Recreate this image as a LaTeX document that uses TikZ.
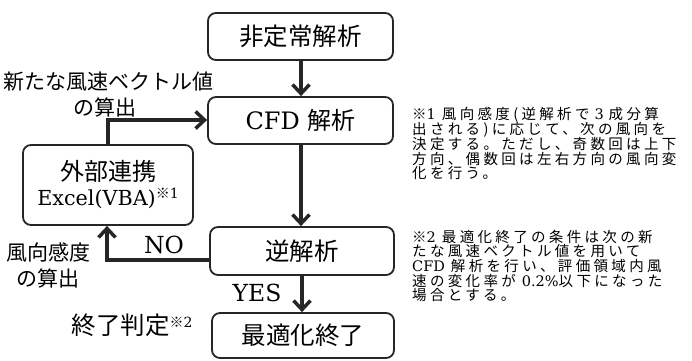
\documentclass[tikz,border=0pt]{standalone}
\usepackage{fontspec}
\setmainfont{DejaVu Serif}
\newfontfamily\jp{Noto Sans CJK JP}
\newfontfamily\jpn[LetterSpace=23]{Noto Sans CJK JP}
\newcommand{\supmark}[1]{\raisebox{7pt}{\fontsize{14}{14}\selectfont{\jp ※}#1}}
\usetikzlibrary{arrows.meta}
\begin{document}
\begin{tikzpicture}[x=1pt,y=-1pt,
  box/.style={draw=black!85, line width=1.8pt, rounded corners=8pt, inner sep=0pt, align=center, font=\fontsize{24.5}{27}\selectfont},
  flow/.style={draw=black!85, line width=3.5pt, -{Straight Barb[length=9pt,width=17pt]}},
  lbl/.style={inner sep=0pt, align=center, font=\fontsize{21}{26}\selectfont},
  note/.style={inner sep=0pt, anchor=west, font=\fontsize{14.5}{14.5}\selectfont}]
\useasboundingbox (0,0) rectangle (692,360);
% boxes
\node[box, minimum width=185pt, minimum height=47pt] (A) at (300.5,36.5) {\jp 非定常解析};
\node[box, minimum width=185pt, minimum height=47pt] (B) at (300.5,120.5) {\fontsize{24}{27}\selectfont CFD {\jp 解析}};
\node[box, minimum width=184pt, minimum height=48pt] (C) at (302,251) {\jp 逆解析};
\node[box, minimum width=182pt, minimum height=45pt] (D) at (303,335.5) {\jp 最適化終了};
\node[box, minimum width=170pt, minimum height=80pt, font=\fontsize{20.7}{25}\selectfont] (E) at (108,185)
  {{\fontsize{24}{25}\selectfont\jp 外部連携}\\Excel(VBA)\supmark{1}};
% connectors
\draw[flow] (A.south -| 301,0) -- (B.north -| 301,0);
\draw[flow] (B.south -| 301,0) -- (C.north -| 301,0);
\draw[flow] (C.south -| 302,0) -- (D.north -| 302,0);
\coordinate (cno) at (C.west |- 0,260);
\coordinate (eno) at (E.south -| 107,0);
\draw[flow] (cno) -- (107,260) -- (eno);
\coordinate (eup) at (E.north -| 108,0);
\draw[flow] (eup) -- (108,120) -- (B.west |- 0,120);
% labels
\node[lbl] (l1) at (108,82) {\jp 新たな風速ベクトル値};
\node[lbl] (l2) at (105,107) {\jp の算出};
\node[lbl] (l3) at (48,252) {\jp 風向感度};
\node[lbl] (l4) at (48,278) {\jp の算出};
\node[lbl, font=\fontsize{23.5}{28}\selectfont] (no) at (164,245) {NO};
\node[lbl, font=\fontsize{23.5}{28}\selectfont] (yes) at (257,293) {YES};
\node[lbl, font=\fontsize{24.5}{27}\selectfont] (end) at (132,325) {{\jp 終了判定}\supmark{2}};
% notes
\node[note] (n11) at (412,115) {{\jpn ※}1\hspace{6pt}{\jpn 風向感度(逆解析で}\hspace{5pt}3\hspace{5pt}{\jpn 成分算}};
\node[note] (n12) at (412,129.6) {\jpn 出される)に応じて、次の風向を};
\node[note] (n13) at (412,144.2) {\jpn 決定する。ただし、奇数回は上下};
\node[note] (n14) at (412,158.8) {\jpn 方向、偶数回は左右方向の風向変};
\node[note] (n15) at (412,173.4) {\jpn 化を行う。};
\node[note] (n21) at (412,237) {{\jpn ※}2\hspace{6pt}{\jpn 最適化終了の条件は次の新}};
\node[note] (n22) at (412,251.5) {\jpn たな風速ベクトル値を用いて};
\node[note] (n23) at (412,266) {CFD\hspace{6pt}{\jpn 解析を行い、評価領域内風}};
\node[note] (n24) at (412,280.5) {{\jpn 速の変化率が}\hspace{6pt}0.2\%{\jpn 以下になった}};
\node[note] (n25) at (412,295) {\jpn 場合とする。};
\end{tikzpicture}
\end{document}
